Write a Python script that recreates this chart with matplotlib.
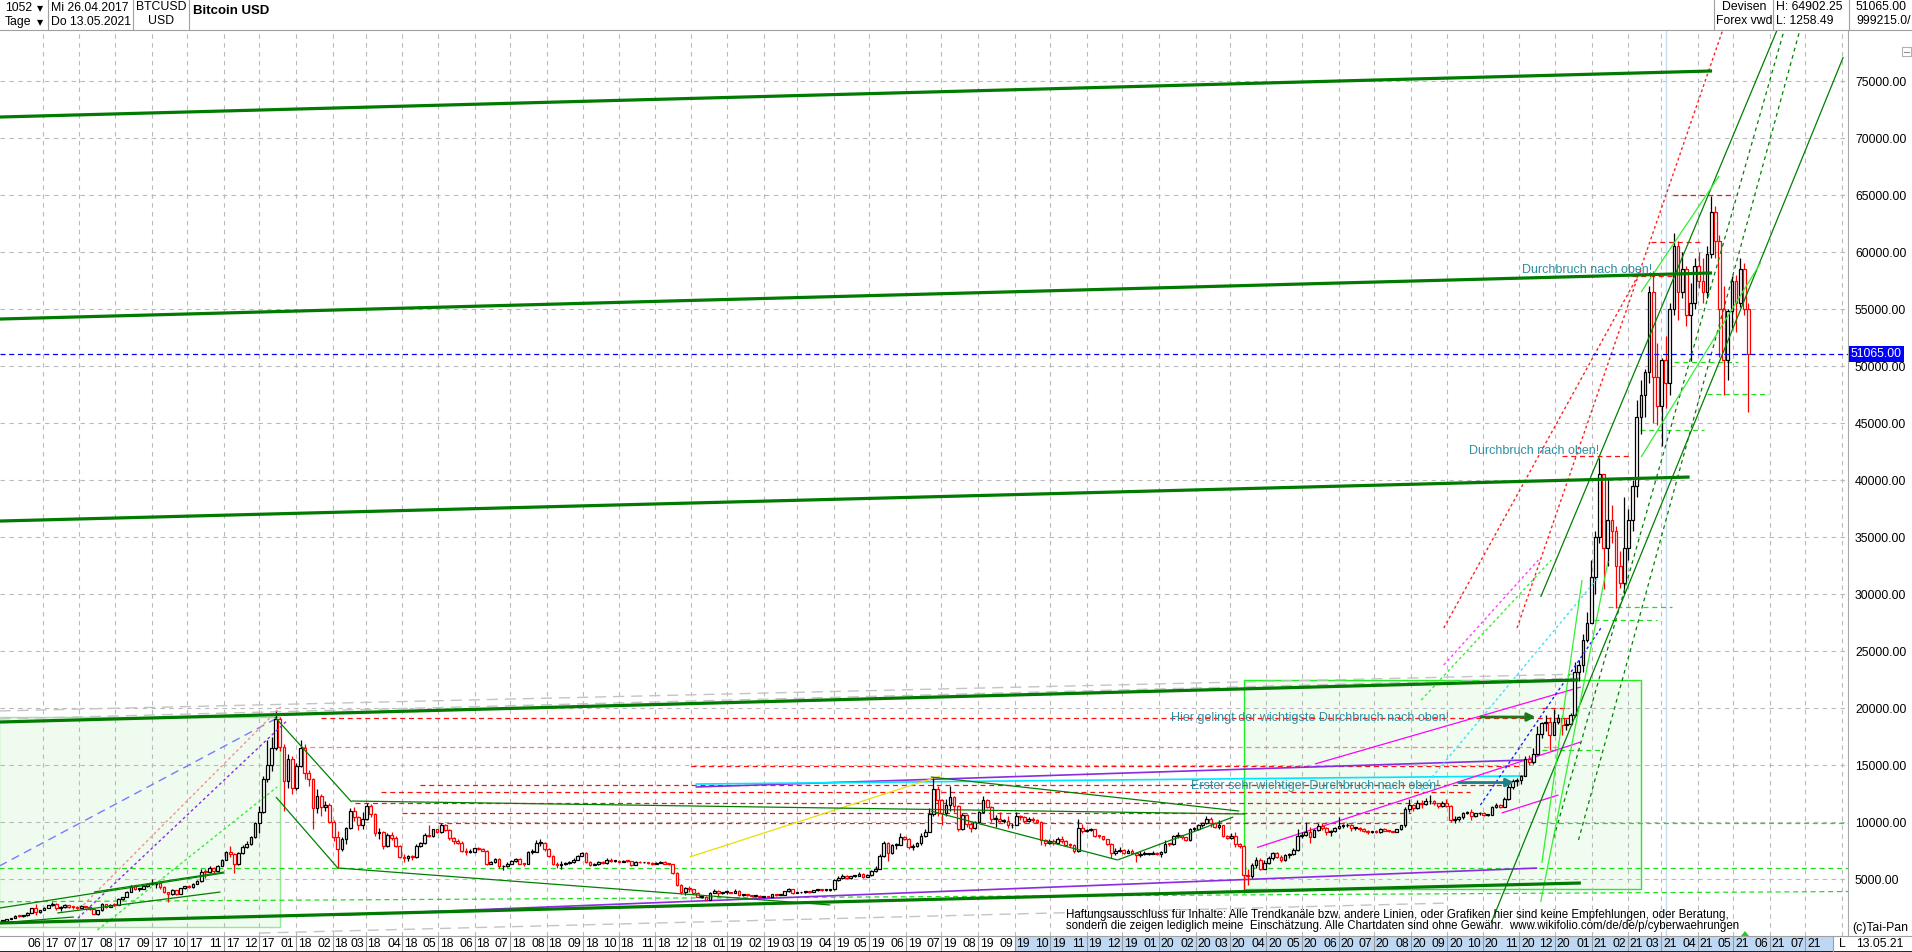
import matplotlib
matplotlib.use("Agg")
import matplotlib.dates as mdates
import matplotlib.pyplot as plt
import matplotlib.transforms as mtransforms
import numpy as np
import pandas as pd
from matplotlib.lines import Line2D
from matplotlib.patches import Polygon, Rectangle
from matplotlib.ticker import FuncFormatter

plt.rcParams["font.family"] = ["Liberation Sans", "DejaVu Sans"]

# ---------------------------------------------------------------- data
# BTCUSD, 3.5-day bars from 26.04.2017 to 13.05.2021, prices in USD thousands
bar_start = "2017-04-26"
first_open = 1.29
closes = [
    1.34, 1.48, 1.56, 1.76, 1.74, 1.80, 2.05, 2.44, 2.10, 2.30,
    2.50, 2.70, 2.83, 2.50, 2.55, 2.70, 2.58, 2.56, 2.45, 2.62,
    2.52, 2.35, 1.95, 2.25, 2.78, 2.56, 2.75, 2.70, 3.25, 3.40,
    3.90, 4.35, 4.10, 4.15, 4.35, 4.60, 4.60, 4.65, 4.30, 3.85,
    3.70, 4.00, 3.70, 4.20, 4.35, 4.30, 4.60, 4.80, 5.65, 5.58,
    6.00, 5.70, 6.15, 6.70, 7.40, 7.15, 6.35, 7.25, 7.80, 8.10,
    8.70, 9.90, 10.9, 13.8, 15.0, 16.5, 19.0, 16.6, 13.6, 15.5,
    13.0, 14.9, 16.5, 14.3, 13.8, 11.2, 12.3, 11.3, 11.5, 10.0,
    8.70, 7.60, 8.50, 9.50, 11.0, 10.4, 9.70, 10.3, 11.4, 10.7,
    9.00, 9.10, 7.90, 8.90, 8.60, 7.90, 6.90, 6.80, 7.00, 6.90,
    7.90, 8.20, 8.90, 8.80, 9.35, 9.10, 9.70, 9.30, 8.60, 8.30,
    8.20, 7.50, 7.35, 7.40, 7.70, 7.65, 7.50, 6.30, 6.50, 6.75,
    6.10, 6.10, 6.35, 6.60, 6.75, 6.35, 6.30, 7.35, 7.40, 8.15,
    8.20, 7.60, 7.00, 6.30, 6.25, 6.30, 6.40, 6.45, 6.70, 7.05,
    7.25, 6.50, 6.25, 6.30, 6.50, 6.40, 6.70, 6.55, 6.60, 6.50,
    6.60, 6.55, 6.25, 6.50, 6.45, 6.45, 6.40, 6.33, 6.40, 6.50,
    6.35, 6.30, 5.55, 4.50, 3.90, 4.20, 4.10, 3.80, 3.45, 3.45,
    3.20, 3.80, 3.95, 3.80, 3.85, 3.85, 3.80, 3.95, 3.60, 3.65,
    3.58, 3.55, 3.55, 3.45, 3.48, 3.40, 3.65, 3.60, 3.63, 3.95,
    4.10, 3.80, 3.82, 3.85, 3.90, 3.85, 4.00, 4.05, 4.00, 4.00,
    4.10, 4.90, 5.05, 5.30, 5.05, 5.23, 5.30, 5.45, 5.20, 5.35,
    5.70, 5.90, 7.00, 8.15, 7.30, 7.95, 8.00, 8.70, 8.55, 7.80,
    7.90, 8.15, 8.80, 9.10, 10.7, 12.9, 11.9, 10.8, 11.5, 12.2,
    11.4, 9.40, 10.6, 9.80, 9.50, 10.0, 10.9, 11.9, 11.3, 10.3,
    10.3, 10.1, 10.1, 9.70, 9.70, 10.5, 10.4, 10.1, 10.3, 10.15,
    10.0, 8.45, 8.20, 8.35, 8.15, 8.55, 8.30, 8.00, 7.95, 7.45,
    9.50, 9.20, 9.30, 9.35, 8.80, 8.75, 8.50, 8.10, 7.30, 7.50,
    7.55, 7.30, 7.50, 7.25, 7.10, 7.20, 7.20, 7.20, 7.30, 7.20,
    7.35, 8.10, 8.05, 8.80, 8.90, 8.65, 8.40, 9.35, 9.38, 9.70,
    9.90, 10.3, 9.90, 9.60, 9.70, 8.80, 8.60, 8.80, 8.05, 7.90,
    5.35, 5.30, 6.20, 6.70, 5.90, 6.40, 6.80, 7.30, 6.90, 6.65,
    7.10, 7.15, 7.55, 8.80, 8.90, 9.15, 8.70, 9.30, 9.65, 9.50,
    9.15, 9.20, 9.45, 9.65, 9.70, 9.75, 9.45, 9.45, 9.35, 9.25,
    9.10, 9.15, 9.10, 9.40, 9.25, 9.20, 9.15, 9.35, 9.70, 11.1,
    11.5, 11.2, 11.7, 11.55, 11.8, 11.8, 11.65, 11.4, 11.7, 11.4,
    10.2, 10.25, 10.4, 10.8, 10.9, 10.5, 10.75, 10.8, 10.6, 10.65,
    11.3, 11.45, 11.35, 12.0, 13.1, 13.6, 13.7, 14.0, 15.5, 15.3,
    16.0, 17.7, 18.7, 18.8, 17.6, 18.8, 19.1, 18.5, 18.6, 19.4,
    23.2, 23.8, 26.0, 27.5, 31.5, 35.0, 40.5, 34.0, 36.5, 35.5,
    32.5, 31.0, 34.0, 36.5, 39.5, 45.5, 47.5, 49.5, 56.5, 49.0,
    46.5, 50.5, 48.5, 55.0, 60.5, 56.5, 58.5, 54.5, 55.5, 58.8,
    57.5, 56.5, 59.8, 63.5, 61.0, 55.0, 50.5, 54.8, 57.5, 55.5,
    58.5, 55.0, 51.065,
]
highs = [
    1.36, 1.50, 1.60, 1.80, 1.84, 1.82, 2.10, 2.50, 2.79, 2.32,
    2.55, 2.75, 2.98, 2.90, 2.60, 2.78, 2.75, 2.62, 2.60, 2.68,
    2.65, 2.60, 2.40, 2.30, 2.90, 2.80, 2.80, 2.90, 3.30, 3.45,
    3.95, 4.45, 4.48, 4.25, 4.40, 4.65, 4.98, 4.75, 4.70, 4.35,
    3.90, 4.10, 4.05, 4.25, 4.40, 4.45, 4.65, 4.90, 5.85, 5.85,
    6.15, 6.05, 6.20, 6.75, 7.50, 7.88, 7.30, 7.40, 7.95, 8.30,
    8.80, 10.0, 11.4, 14.0, 17.2, 17.5, 19.8, 19.2, 16.8, 16.0,
    15.8, 15.2, 17.2, 16.8, 14.6, 13.9, 12.9, 12.5, 11.8, 11.7,
    10.2, 9.20, 8.70, 9.60, 11.2, 11.3, 10.5, 10.9, 11.7, 11.6,
    10.8, 9.50, 9.20, 9.00, 9.10, 8.80, 8.00, 7.20, 7.10, 7.10,
    8.10, 8.25, 9.00, 9.70, 9.40, 9.40, 9.95, 9.80, 9.40, 8.70,
    8.55, 8.30, 7.70, 7.60, 7.75, 7.80, 7.70, 7.55, 6.60, 6.80,
    6.80, 6.25, 6.45, 6.70, 6.80, 6.80, 6.40, 7.50, 7.60, 8.40,
    8.50, 8.25, 7.70, 7.10, 6.50, 6.60, 6.50, 6.60, 6.80, 7.10,
    7.35, 7.40, 6.55, 6.40, 6.60, 6.55, 6.80, 6.80, 6.65, 6.65,
    6.65, 6.65, 6.60, 6.60, 6.55, 6.50, 6.48, 6.45, 6.45, 6.55,
    6.55, 6.40, 6.35, 5.60, 4.60, 4.30, 4.40, 4.15, 3.90, 3.60,
    3.50, 3.90, 4.15, 4.00, 3.90, 3.90, 3.90, 4.10, 4.00, 3.70,
    3.70, 3.62, 3.60, 3.58, 3.52, 3.52, 3.70, 3.70, 3.68, 3.98,
    4.20, 4.15, 3.90, 3.90, 3.95, 3.95, 4.02, 4.10, 4.10, 4.05,
    4.15, 5.00, 5.30, 5.45, 5.35, 5.25, 5.35, 5.60, 5.50, 5.40,
    5.80, 6.10, 7.20, 8.30, 8.25, 8.10, 8.15, 9.00, 8.80, 8.60,
    8.05, 8.25, 9.00, 9.40, 11.2, 13.9, 13.2, 12.0, 12.0, 13.2,
    12.3, 11.5, 10.8, 10.7, 10.0, 10.1, 11.0, 12.3, 12.0, 11.4,
    10.6, 10.9, 10.3, 10.5, 9.90, 10.9, 10.6, 10.5, 10.4, 10.4,
    10.3, 10.1, 8.50, 8.50, 8.50, 8.65, 8.80, 8.40, 8.20, 8.10,
    10.3, 9.80, 9.40, 9.50, 9.40, 8.90, 8.80, 8.55, 8.20, 7.70,
    7.80, 7.60, 7.60, 7.60, 7.30, 7.50, 7.50, 7.30, 7.45, 7.40,
    7.50, 8.40, 8.20, 8.90, 9.10, 8.90, 8.70, 9.50, 9.55, 9.80,
    9.95, 10.5, 10.4, 10.0, 10.2, 9.75, 8.90, 9.00, 9.10, 8.20,
    7.95, 5.90, 6.40, 6.90, 6.80, 6.70, 7.00, 7.40, 7.40, 7.10,
    7.20, 7.30, 7.70, 9.40, 9.10, 10.0, 9.60, 9.40, 9.90, 9.90,
    9.60, 9.30, 9.60, 10.4, 9.80, 9.95, 9.80, 9.55, 9.60, 9.45,
    9.30, 9.25, 9.30, 9.45, 9.45, 9.30, 9.25, 9.40, 9.75, 11.3,
    12.0, 11.6, 11.9, 11.9, 12.1, 12.4, 11.9, 11.7, 11.8, 12.0,
    11.5, 10.5, 10.5, 10.9, 11.0, 11.1, 10.8, 10.9, 10.9, 10.7,
    11.4, 11.7, 11.6, 12.2, 13.3, 13.8, 13.9, 14.1, 15.8, 15.9,
    16.5, 18.4, 18.8, 19.4, 19.2, 19.9, 19.5, 19.4, 19.0, 19.6,
    24.0, 24.2, 26.5, 28.4, 33.0, 35.5, 41.9, 40.5, 40.1, 37.8,
    36.0, 33.8, 38.5, 37.5, 40.0, 47.0, 48.8, 49.7, 57.0, 58.3,
    52.0, 50.7, 52.6, 55.5, 61.7, 61.0, 60.0, 58.8, 57.3, 59.5,
    60.0, 59.5, 60.5, 64.9, 64.0, 61.5, 57.0, 55.0, 57.9, 58.0,
    59.5, 59.0, 55.5,
]
lows = [
    1.26, 1.32, 1.46, 1.55, 1.68, 1.70, 1.78, 2.02, 1.85, 2.02,
    2.25, 2.48, 2.66, 2.30, 2.20, 2.50, 2.50, 2.40, 2.40, 2.42,
    2.48, 2.30, 1.90, 1.85, 2.20, 2.50, 2.52, 2.66, 2.68, 3.18,
    3.38, 3.85, 4.00, 3.95, 4.10, 4.30, 4.50, 4.20, 4.15, 3.80,
    2.98, 3.60, 3.60, 3.65, 4.15, 4.20, 4.25, 4.55, 4.75, 5.10,
    5.50, 5.50, 5.65, 6.10, 6.65, 6.90, 5.50, 6.20, 7.20, 7.70,
    8.00, 8.60, 9.00, 10.8, 13.5, 14.5, 16.3, 16.2, 11.0, 13.0,
    12.5, 12.8, 14.8, 13.8, 13.2, 9.40, 10.8, 10.5, 11.0, 9.90,
    8.30, 6.00, 7.50, 8.10, 9.40, 10.1, 9.30, 9.40, 10.2, 10.4,
    8.80, 8.50, 7.60, 7.80, 8.40, 7.80, 6.80, 6.45, 6.60, 6.70,
    6.85, 7.80, 8.10, 8.70, 8.70, 9.00, 9.00, 9.20, 8.40, 8.10,
    8.10, 7.40, 7.10, 7.30, 7.35, 7.55, 7.45, 6.20, 6.30, 6.40,
    6.00, 5.80, 6.05, 6.30, 6.50, 6.30, 6.10, 6.30, 7.20, 7.35,
    7.90, 7.50, 6.90, 6.20, 6.00, 5.90, 6.25, 6.30, 6.40, 6.65,
    7.00, 6.40, 6.15, 6.20, 6.25, 6.30, 6.35, 6.50, 6.45, 6.45,
    6.45, 6.50, 6.15, 6.20, 6.40, 6.38, 6.35, 6.25, 6.30, 6.38,
    6.30, 6.20, 5.40, 4.40, 3.70, 3.60, 3.90, 3.75, 3.40, 3.30,
    3.15, 3.20, 3.75, 3.55, 3.70, 3.70, 3.75, 3.78, 3.55, 3.55,
    3.52, 3.50, 3.50, 3.40, 3.40, 3.38, 3.38, 3.55, 3.58, 3.60,
    3.90, 3.70, 3.75, 3.75, 3.80, 3.80, 3.82, 3.95, 3.95, 3.95,
    3.95, 4.05, 4.80, 5.00, 5.00, 5.00, 5.15, 5.25, 5.10, 5.15,
    5.30, 5.65, 5.85, 6.90, 6.60, 7.20, 7.60, 7.95, 8.40, 7.60,
    7.55, 7.80, 8.00, 8.70, 9.10, 10.5, 10.5, 9.70, 10.5, 11.0,
    10.9, 9.20, 9.30, 9.60, 9.10, 9.40, 9.90, 10.8, 11.2, 10.0,
    9.60, 10.0, 9.90, 9.50, 9.50, 9.70, 10.2, 9.90, 10.0, 10.0,
    9.90, 8.00, 7.90, 8.10, 8.00, 8.10, 8.20, 7.90, 7.80, 7.30,
    7.40, 9.00, 9.10, 9.20, 8.70, 8.60, 8.40, 8.00, 6.80, 7.10,
    7.40, 7.20, 7.25, 7.20, 6.50, 6.90, 7.10, 7.10, 7.15, 7.10,
    6.90, 7.30, 7.90, 8.00, 8.60, 8.50, 8.30, 8.30, 9.20, 9.30,
    9.60, 9.80, 9.60, 9.50, 9.40, 8.70, 8.50, 8.50, 7.80, 7.70,
    3.80, 4.50, 5.10, 6.00, 5.80, 5.90, 6.30, 6.70, 6.80, 6.50,
    6.60, 6.80, 7.10, 7.50, 8.60, 8.80, 8.20, 8.70, 9.20, 9.30,
    8.90, 8.80, 9.10, 9.40, 9.50, 9.60, 9.20, 9.30, 9.25, 9.15,
    8.95, 9.00, 9.05, 9.05, 9.20, 9.10, 9.10, 9.10, 9.30, 9.60,
    10.9, 11.0, 11.1, 11.2, 11.5, 11.6, 11.5, 11.2, 11.3, 11.3,
    10.0, 9.90, 10.1, 10.3, 10.7, 10.2, 10.4, 10.6, 10.5, 10.5,
    10.6, 11.2, 11.2, 11.3, 11.9, 12.9, 13.2, 13.3, 14.0, 15.0,
    15.1, 15.9, 17.4, 18.0, 16.3, 17.6, 18.6, 17.6, 18.1, 18.5,
    19.2, 22.4, 23.2, 25.8, 27.5, 30.0, 34.5, 30.4, 32.5, 34.5,
    28.8, 30.5, 30.0, 33.0, 35.5, 38.5, 44.0, 45.5, 48.5, 45.0,
    44.8, 43.0, 46.3, 47.5, 54.5, 54.0, 56.0, 53.5, 50.4, 55.0,
    56.8, 55.5, 56.0, 59.5, 59.5, 50.8, 47.5, 48.8, 53.3, 53.0,
    55.2, 54.5, 46.0,
]
last_price = 51065.00
price_ticks = list(range(5000, 80000, 5000))

# trend lines drawn on the chart: (start date, price, end date, price)
thick_green = [
    ("2017-04-25", 71840, "2021-04-13", 75880),
    ("2017-04-25", 54120, "2021-04-13", 58160),
    ("2017-04-25", 36400, "2021-03-25", 40260),
    ("2017-04-25", 18770, "2020-12-21", 22460),
    ("2017-04-25", 1140, "2020-12-23", 4650),
]
dark_green = [
    ("2017-04-25", 2450, "2017-11-01", 5530),
    ("2017-04-25", 1140, "2017-06-27", 1670),
    ("2017-06-13", 2020, "2017-10-29", 3860),
    ("2017-07-14", 3860, "2017-11-01", 5610),
    ("2017-12-14", 19210, "2018-02-17", 11750),
    ("2017-12-15", 12190, "2018-02-06", 5880),
    ("2018-02-17", 11840, "2020-03-14", 10700),
    ("2018-02-06", 5960, "2019-03-29", 2720),
    ("2019-06-22", 13950, "2020-03-09", 10960),
    ("2019-06-22", 10960, "2019-11-27", 6670),
    ("2019-11-27", 6670, "2020-03-04", 10440),
    ("2020-10-08", 1140, "2021-08-02", 77100),
    ("2020-11-19", 29740, "2021-06-07", 79470),
]
dark_green_dashed = [
    ("2020-11-30", 8600, "2021-06-13", 79470),
    ("2020-12-21", 8420, "2021-06-27", 79740),
]
bright_green = [
    ("2021-02-12", 56490, "2021-04-19", 66670),
    ("2021-02-12", 42020, "2021-05-24", 59040),
    ("2020-11-20", 6400, "2020-12-24", 31230),
    ("2020-11-19", 2980, "2021-01-15", 32890),
]
green_levels = [
    ("2017-04-25", 5960, "2021-08-06", 5960),
    ("2017-04-25", 3000, "2021-08-06", 3900),
    ("2020-11-19", 9900, "2021-08-06", 9900),
    ("2021-02-11", 44400, "2021-04-06", 44400),
    ("2021-03-12", 50350, "2021-05-05", 50350),
    ("2021-04-09", 47540, "2021-05-31", 47540),
    ("2021-01-15", 28860, "2021-03-10", 28860),
    ("2021-01-03", 27700, "2021-02-25", 27700),
    ("2020-11-20", 16300, "2021-01-11", 16300),
]
red_levels = [
    ("2018-01-22", 19100, "2020-12-13", 19100),
    ("2020-11-20", 20000, "2020-12-13", 20000),
    ("2021-03-11", 65000, "2021-04-29", 65000),
    ("2021-02-20", 60900, "2021-04-04", 60900),
    ("2021-02-04", 57900, "2021-03-11", 57900),
    ("2020-12-07", 42100, "2021-02-02", 42100),
    ("2018-12-01", 14930, "2020-11-01", 14930),
    ("2018-04-16", 13250, "2020-10-17", 13250),
    ("2018-03-14", 12600, "2020-09-20", 12600),
    ("2018-02-20", 11670, "2020-08-24", 11670),
    ("2018-04-01", 10760, "2020-08-01", 10760),
    ("2018-05-01", 9910, "2020-07-20", 9910),
]
salmon_levels = [("2018-01-05", 16600, "2020-12-06", 16600)]
red_dotted = [
    ("2020-08-29", 27020, "2021-02-12", 58420),
    ("2020-10-30", 27020, "2021-04-22", 79470),
]
salmon_dotted = [("2017-07-05", 2720, "2017-12-19", 20090)]
green_dotted = [
    ("2017-07-17", 530, "2017-12-16", 13070),
    ("2020-08-10", 20700, "2020-11-28", 32980),
]
purple_dotted = [("2017-06-27", 1230, "2017-12-25", 18950)]
blue_dotted = [("2020-09-29", 11490, "2021-01-09", 27020)]
cyan_dotted = [("2020-08-10", 12800, "2021-01-07", 31490)]
magenta_dotted = [("2020-08-29", 23770, "2020-11-17", 32980)]
blue_dashed = [("2017-04-25", 6140, "2017-12-16", 19120)]
violet = [
    ("2018-12-05", 13070, "2020-11-07", 15440),
    ("2018-02-09", 1840, "2020-11-16", 5960),
]
cyan = [("2018-12-05", 13330, "2020-11-07", 14040)]
yellow = [("2018-11-30", 6930, "2019-06-30", 14040)]
magenta = [
    ("2020-05-12", 15090, "2020-12-23", 21840),
    ("2020-03-24", 7760, "2020-12-23", 17020),
    ("2020-10-17", 10790, "2020-12-04", 12370),
]
grey_dashed = [
    ("2017-04-25", 19740, "2020-12-23", 22980),
    ("2017-04-25", 19040, "2020-12-23", 22630),
    ("2017-12-01", 260, "2020-09-01", 2890),
]
boxes_light = [("2017-04-25", 800, "2017-12-18", 19200)]
boxes_bright = [("2020-03-13", 4120, "2021-02-12", 22450)]
marker_day = "2021-03-05"

notes = [
    ("Durchbruch nach oben!", "2020-11-03", 58420),
    ("Durchbruch nach oben!", "2020-09-19", 42540),
    ("Hier gelingt der wichtigste Durchbruch nach oben!", "2020-01-11", 19120),
    ("Erster sehr wichtiger Durchbruch nach oben!", "2020-01-28", 13160),
]
arrows = [
    ("2020-09-27", "2020-11-17", 19210),
    ("2020-09-08", "2020-10-30", 13460),
]

# ---------------------------------------------------------------- layout
FW, FH = 1912, 952
PLOT_R, PLOT_TOP, PLOT_BOT = 1848, 30, 936


def fx(px):
    return px / FW


def fy(py):
    return 1 - py / FH


def dn(s):
    return mdates.datestr2num(s)


fig = plt.figure(figsize=(FW / 100, FH / 100), dpi=100)
ax = fig.add_axes([0, fy(PLOT_BOT), fx(PLOT_R), (PLOT_BOT - PLOT_TOP) / FH])
x0, x1 = dn("2017-04-25 12:00"), dn("2021-08-06")
ax.set_xlim(x0, x1)
ax.set_ylim(0, 79474)

months = pd.date_range("2017-06-01", "2021-08-01", freq="MS")
ax.set_xticks(mdates.date2num(months))
ax.set_yticks(price_ticks)
ax.grid(True, color="#b9b9b9", linestyle=(0, (4, 4)), linewidth=0.8)
ax.set_axisbelow(True)
ax.tick_params(axis="x", length=0, labelbottom=False)
ax.yaxis.tick_right()
ax.tick_params(axis="y", length=0, pad=5, labelsize=8.8)
ax.yaxis.set_major_formatter(FuncFormatter(lambda v, _: f"{v:.2f}"))
for s in ("top", "left", "bottom"):
    ax.spines[s].set_visible(False)
ax.spines["right"].set_color("#a8a8a8")


def draw(items, **kw):
    for d1, p1, d2, p2 in items:
        ax.plot([dn(d1), dn(d2)], [p1, p2], solid_capstyle="butt", **kw)


for d1, p1, d2, p2 in boxes_light:
    ax.add_patch(Rectangle((dn(d1), p1), dn(d2) - dn(d1), p2 - p1, fc="#effbef",
                           ec="#98e898", lw=1.0, zorder=0.3))
for d1, p1, d2, p2 in boxes_bright:
    ax.add_patch(Rectangle((dn(d1), p1), dn(d2) - dn(d1), p2 - p1, fc="#f0fcf0",
                           ec="#22ee22", lw=1.0, zorder=0.3))
ax.axvline(dn(marker_day), color="#c8dcf0", lw=1.0, zorder=0.6)

# candles
n = len(closes)
assert len(highs) == n and len(lows) == n
xs = mdates.date2num(pd.date_range(bar_start, periods=n, freq="84h")) + 1.75
c = np.array(closes) * 1000
o = np.r_[first_open, closes[:-1]] * 1000
hi = np.array(highs) * 1000
lo = np.array(lows) * 1000
cols = np.where(c >= o, "black", "#ff0000")
ax.vlines(xs, lo, hi, colors=cols, lw=0.9, zorder=5)
ax.bar(xs, np.maximum(np.abs(c - o), 80), width=2.3, bottom=np.minimum(o, c),
       color="white", edgecolor=cols, linewidth=0.9, zorder=6)

# drawings
draw(grey_dashed, color="#c4c4c4", lw=1.0, ls=(0, (8, 5)), zorder=2)
draw(green_levels, color="#22dd22", lw=0.9, ls=(0, (4, 3)), zorder=3)
draw(salmon_levels, color="#ff8080", lw=0.9, ls=(0, (4, 3)), zorder=3)
draw(red_levels, color="#ff1010", lw=0.9, ls=(0, (4, 3)), zorder=3)
draw(blue_dashed, color="#7a7aff", lw=1.0, ls=(0, (6, 4)), zorder=3)
draw(violet, color="#8a2be2", lw=1.2, zorder=3)
draw(cyan, color="#00e5ff", lw=1.2, zorder=3)
draw(yellow, color="#e8e000", lw=0.9, zorder=3)
draw(magenta, color="#ff00ff", lw=0.9, zorder=3)
draw(salmon_dotted, color="#ff8a8a", lw=1.0, ls=(0, (2, 2)), zorder=7)
draw(purple_dotted, color="#8a2be2", lw=1.0, ls=(0, (2, 2)), zorder=7)
draw(green_dotted, color="#33ee33", lw=1.0, ls=(0, (2, 2)), zorder=7)
draw(blue_dotted, color="#2020ff", lw=1.0, ls=(0, (2, 2)), zorder=7)
draw(cyan_dotted, color="#40e0ff", lw=1.0, ls=(0, (2, 2)), zorder=7)
draw(magenta_dotted, color="#ff40ff", lw=1.0, ls=(0, (2, 2)), zorder=7)
draw(red_dotted, color="#ff2020", lw=1.0, ls=(0, (2, 2)), zorder=7)
draw(dark_green, color="#008000", lw=0.9, zorder=7)
draw(dark_green_dashed, color="#008000", lw=0.9, ls=(0, (3, 3)), zorder=7)
draw(bright_green, color="#33ee33", lw=0.9, zorder=7)
draw(thick_green, color="#007a00", lw=2.3, zorder=8)
ax.axhline(last_price, color="#0000ff", lw=0.9, ls=(0, (4, 3)), zorder=8)

teal = "#2b8fa3"
for txt, d, p in notes:
    ax.text(dn(d), p, txt, color=teal, fontsize=9, ha="left", va="center", zorder=9)
ax.annotate("", xy=(dn(arrows[0][1]), arrows[0][2]), xytext=(dn(arrows[0][0]), arrows[0][2]),
            arrowprops=dict(arrowstyle="-|>", color="#1a7a1a", lw=2.0, mutation_scale=12), zorder=9)
ax.annotate("", xy=(dn(arrows[1][1]), arrows[1][2]), xytext=(dn(arrows[1][0]), arrows[1][2]),
            arrowprops=dict(arrowstyle="-|>", color="#1f7f86", lw=2.0, mutation_scale=12), zorder=9)

tr = mtransforms.blended_transform_factory(ax.transAxes, ax.transData)
ax.text(1.0015, last_price, f"{last_price:.2f}", transform=tr, color="white", fontsize=8.8,
        ha="left", va="center", clip_on=False, zorder=20,
        bbox=dict(boxstyle="square,pad=0.18", fc="#0000ff", ec="none"))

# month band
axb = fig.add_axes([0, 0, fx(PLOT_R), (FH - PLOT_BOT) / FH])
axb.set_xlim(x0, x1)
axb.set_ylim(0, 1)
axb.axis("off")
axb.axvspan(dn("2019-09-01"), dn("2021-07-24"), color="#bed8f3", lw=0)
for m in months[:-1]:
    mx = mdates.date2num(m)
    axb.axvline(mx, color="#9a9a9a", lw=0.8)
    axb.text(mx - 1.5, 0.48, f"{m.month:02d}", ha="right", va="center", fontsize=8.8)
    axb.text(mx + 1.5, 0.48, f"{m.year % 100:02d}", ha="left", va="center", fontsize=8.8)


def fline(xa, ya, xb, yb, color="#a0a0a0", lw=0.8):
    fig.add_artist(Line2D([fx(xa), fx(xb)], [fy(ya), fy(yb)], color=color, lw=lw))


fline(0, PLOT_BOT, FW, PLOT_BOT)
fline(0, FH - 0.5, FW, FH - 0.5, color="black", lw=1.2)
fline(1833, PLOT_BOT, 1833, FH)
fig.text(fx(1842), fy(944), "L", ha="center", va="center", fontsize=8.8)
fig.text(fx(1880), fy(944), "13.05.21", ha="center", va="center", fontsize=8.8)
fig.text(fx(1880), fy(928), "(c)Tai-Pan", ha="center", va="center", fontsize=8.8)
fig.add_artist(Polygon([[fx(1741), fy(936)], [fx(1749), fy(936)], [fx(1745), fy(931)]],
                       closed=True, fc="#22cc22", ec="none"))

# disclaimer
fig.text(fx(1066), fy(915), "Haftungsausschluss für Inhalte: Alle Trendkanäle bzw. andere Linien, "
         "oder Grafiken hier sind keine Empfehlungen, oder Beratung,", fontsize=8.3, va="center")
fig.text(fx(1066), fy(925.5), "sondern die zeigen lediglich meine  Einschätzung. Alle Chartdaten "
         "sind ohne Gewähr.  www.wikifolio.com/de/de/p/cyberwaehrungen", fontsize=8.3, va="center")

# header
fline(0, PLOT_TOP, FW, PLOT_TOP)
for sx in (48, 133, 189, 1714, 1773, 1849):
    fline(sx, 0, sx, PLOT_TOP)
hdr = [
    (5, 8, "1052", "left"), (40, 8, "\u25be", "center"),
    (5, 22, "Tage", "left"), (40, 22, "\u25be", "center"),
    (51, 8, "Mi 26.04.2017", "left"), (51, 22, "Do 13.05.2021", "left"),
    (161, 7, "BTCUSD", "center"), (161, 21, "USD", "center"),
    (1744, 7, "Devisen", "center"), (1744, 21, "Forex vwd", "center"),
    (1776, 7, "H: 64902.25", "left"), (1776, 21, "L: 1258.49", "left"),
    (1856, 7, "51065.00", "left"), (1856, 21, "999215.0/", "left"),
]
for hx, hy, t, ha in hdr:
    fig.text(fx(hx), fy(hy), t, ha=ha, va="center", fontsize=8.8)
fig.text(fx(193), fy(11), "Bitcoin USD", ha="left", va="center", fontsize=9.5, fontweight="bold")
fig.add_artist(Rectangle((fx(1902), fy(56)), fx(9), 9 / FH, fill=False, ec="#b0b0b0", lw=0.8))
fline(1904, 51.5, 1909, 51.5, color="#909090")

fig.savefig("out.png", dpi=100)
